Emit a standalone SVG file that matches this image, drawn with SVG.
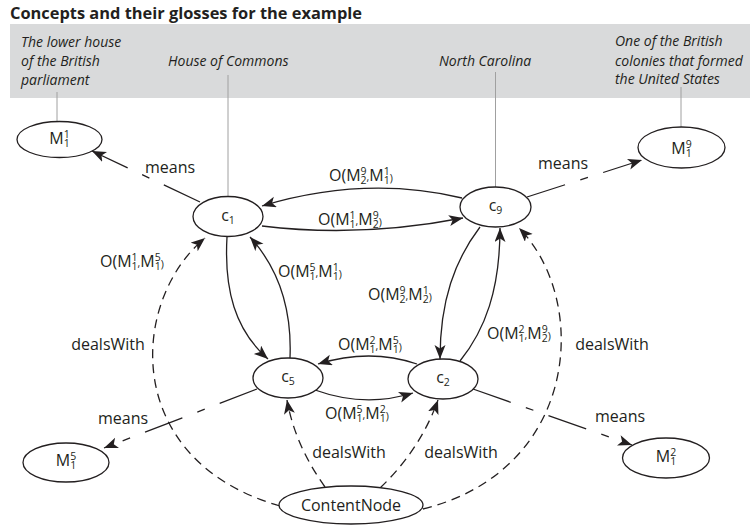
<svg xmlns="http://www.w3.org/2000/svg" width="750" height="529" viewBox="0 0 750 529">
<defs>
<style>
text{font-family:"Open Sans","Noto Sans","DejaVu Sans",sans-serif;fill:#231f20}
.title{font-size:16.4px;font-weight:bold}
.gloss{font-size:14px;font-style:italic}
.lbl{font-size:16px}
.s{font-size:10.5px}
.nl{font-size:16px;text-anchor:middle}
.leader{stroke:#a0a0a0;stroke-width:1;fill:none}
.node{fill:#fff;stroke:#231f20;stroke-width:1.3}
.e{fill:none;stroke:#231f20;stroke-width:1.3;marker-end:url(#ah)}
.means{stroke-dasharray:40 16 8 16}
.dw{stroke-dasharray:9 6}
</style>
<marker id="ah" markerUnits="userSpaceOnUse" markerWidth="16" markerHeight="12" refX="14" refY="5.5" orient="auto">
<path d="M0,0 L14,5.5 L0,11 L3.5,5.5 z" fill="#231f20"/>
</marker>
</defs>
<rect width="750" height="529" fill="#fff"/>
<text class="title" x="10" y="19">Concepts and their glosses for the example</text>
<rect x="10" y="24" width="740" height="74" fill="#d9dadb"/>
<g id="glosses">
<text class="gloss" x="21" y="47">The lower house</text>
<text class="gloss" x="21" y="66">of the British</text>
<text class="gloss" x="21" y="85">parliament</text>
<text class="gloss" x="168" y="66">House of Commons</text>
<text class="gloss" x="439" y="66">North Carolina</text>
<text class="gloss" x="615" y="46">One of the British</text>
<text class="gloss" x="615" y="66">colonies that formed</text>
<text class="gloss" x="615" y="84">the United States</text>
<line class="leader" x1="57" y1="92" x2="57" y2="121"/>
<line class="leader" x1="228" y1="75" x2="228" y2="197"/>
<line class="leader" x1="495.5" y1="72" x2="495.5" y2="187"/>
<line class="leader" x1="681" y1="87" x2="681" y2="127"/>
</g>
<g id="connectors">
<path class="e means" d="M200,202 L92,151"/>
<path class="e means" d="M527,197 L642,160"/>
<path class="e means" d="M257,389 L104,448"/>
<path class="e means" d="M473,389 L632,445"/>
<path class="e" d="M462,198 Q365,175 262,206"/>
<path class="e" d="M262,226 Q360,238 463,218"/>
<path class="e" d="M227,237 C224,290 235,330 268,359"/>
<path class="e" d="M290,358 C292,310 280,270 250,237"/>
<path class="e" d="M480,227 C455,260 440,300 440,359"/>
<path class="e" d="M460,361 C485,330 500,290 500,228"/>
<path class="e" d="M417,364 Q370,348 318,364"/>
<path class="e" d="M315,390 Q365,408 413,393"/>
<path class="e dw" d="M325,487 Q295,445 287,400"/>
<path class="e dw" d="M380,488 Q420,450 438,400"/>
<path class="e dw" d="M280,506 C120,460 130,300 205,238"/>
<path class="e dw" d="M423,509 C580,470 590,300 519,228"/>
<g id="edge-labels">
<text class="lbl" x="170" y="173" text-anchor="middle">means</text>
<text class="lbl" x="563" y="169" text-anchor="middle">means</text>
<text class="lbl" x="123" y="424" text-anchor="middle">means</text>
<text class="lbl" x="620" y="422" text-anchor="middle">means</text>
<text class="lbl" x="108" y="350" text-anchor="middle">dealsWith</text>
<text class="lbl" x="612" y="350" text-anchor="middle">dealsWith</text>
<text class="lbl" x="349" y="458" text-anchor="middle">dealsWith</text>
<text class="lbl" x="461" y="458" text-anchor="middle">dealsWith</text>
<text class="lbl" x="329" y="181">O(M<tspan class="s" dy="-6.5">9</tspan><tspan class="s" dx="-6" dy="9">2</tspan><tspan class="s" dy="-2.5">,</tspan>M<tspan class="s" dy="-6.5">1</tspan><tspan class="s" dx="-6" dy="9">1</tspan><tspan class="s" dy="-1.5">)</tspan></text>
<text class="lbl" x="318" y="225">O(M<tspan class="s" dy="-6.5">1</tspan><tspan class="s" dx="-6" dy="9">1</tspan><tspan class="s" dy="-2.5">,</tspan>M<tspan class="s" dy="-6.5">9</tspan><tspan class="s" dx="-6" dy="9">2</tspan><tspan class="s" dy="-1.5">)</tspan></text>
<text class="lbl" x="100" y="267">O(M<tspan class="s" dy="-6.5">1</tspan><tspan class="s" dx="-6" dy="9">1</tspan><tspan class="s" dy="-2.5">,</tspan>M<tspan class="s" dy="-6.5">5</tspan><tspan class="s" dx="-6" dy="9">1</tspan><tspan class="s" dy="-1.5">)</tspan></text>
<text class="lbl" x="278" y="277">O(M<tspan class="s" dy="-6.5">5</tspan><tspan class="s" dx="-6" dy="9">1</tspan><tspan class="s" dy="-2.5">,</tspan>M<tspan class="s" dy="-6.5">1</tspan><tspan class="s" dx="-6" dy="9">1</tspan><tspan class="s" dy="-1.5">)</tspan></text>
<text class="lbl" x="368" y="300">O(M<tspan class="s" dy="-6.5">9</tspan><tspan class="s" dx="-6" dy="9">2</tspan><tspan class="s" dy="-2.5">,</tspan>M<tspan class="s" dy="-6.5">1</tspan><tspan class="s" dx="-6" dy="9">2</tspan><tspan class="s" dy="-1.5">)</tspan></text>
<text class="lbl" x="487" y="339">O(M<tspan class="s" dy="-6.5">2</tspan><tspan class="s" dx="-6" dy="9">1</tspan><tspan class="s" dy="-2.5">,</tspan>M<tspan class="s" dy="-6.5">9</tspan><tspan class="s" dx="-6" dy="9">2</tspan><tspan class="s" dy="-1.5">)</tspan></text>
<text class="lbl" x="338" y="350">O(M<tspan class="s" dy="-6.5">2</tspan><tspan class="s" dx="-6" dy="9">1</tspan><tspan class="s" dy="-2.5">,</tspan>M<tspan class="s" dy="-6.5">5</tspan><tspan class="s" dx="-6" dy="9">1</tspan><tspan class="s" dy="-1.5">)</tspan></text>
<text class="lbl" x="325" y="419">O(M<tspan class="s" dy="-6.5">5</tspan><tspan class="s" dx="-6" dy="9">1</tspan><tspan class="s" dy="-2.5">,</tspan>M<tspan class="s" dy="-6.5">2</tspan><tspan class="s" dx="-6" dy="9">1</tspan><tspan class="s" dy="-1.5">)</tspan></text>
</g>
</g>
<g id="M1_1"><ellipse class="node" cx="59.5" cy="139.5" rx="42.5" ry="18"/><text class="nl" x="59.5" y="144">M<tspan class="s" dy="-6.5">1</tspan><tspan class="s" dx="-6" dy="9">1</tspan></text></g>
<g id="c1"><ellipse class="node" cx="228" cy="216.5" rx="35" ry="20"/><text class="nl" x="228" y="220.5">c<tspan class="s" dy="3">1</tspan></text></g>
<g id="c9"><ellipse class="node" cx="495.5" cy="207" rx="35.5" ry="20"/><text class="nl" x="495.5" y="211">c<tspan class="s" dy="3">9</tspan></text></g>
<g id="M1_9"><ellipse class="node" cx="681.5" cy="147.5" rx="43.5" ry="20.5"/><text class="nl" x="681.5" y="154">M<tspan class="s" dy="-6.5">9</tspan><tspan class="s" dx="-6" dy="9">1</tspan></text></g>
<g id="c5"><ellipse class="node" cx="288" cy="378" rx="35" ry="20"/><text class="nl" x="288" y="382">c<tspan class="s" dy="3">5</tspan></text></g>
<g id="c2"><ellipse class="node" cx="443" cy="379" rx="35" ry="20"/><text class="nl" x="443" y="383">c<tspan class="s" dy="3">2</tspan></text></g>
<g id="M1_5"><ellipse class="node" cx="66" cy="462.5" rx="43" ry="19.5"/><text class="nl" x="66" y="466">M<tspan class="s" dy="-6.5">5</tspan><tspan class="s" dx="-6" dy="9">1</tspan></text></g>
<g id="M1_2"><ellipse class="node" cx="666" cy="458" rx="43.5" ry="20"/><text class="nl" x="666" y="462">M<tspan class="s" dy="-6.5">2</tspan><tspan class="s" dx="-6" dy="9">1</tspan></text></g>
<g id="ContentNode"><ellipse class="node" cx="351" cy="505" rx="72" ry="19"/><text class="nl" x="351" y="511" font-size="17">ContentNode</text></g>
</svg>
